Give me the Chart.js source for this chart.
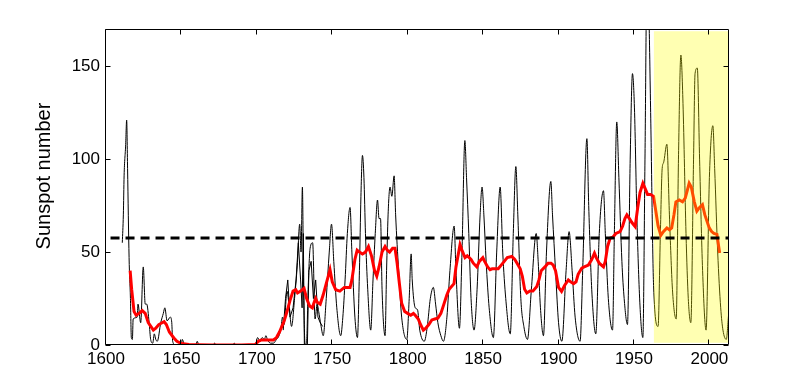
<!DOCTYPE html>
<html>
<head>
<meta charset="utf-8">
<script src="https://cdn.jsdelivr.net/npm/chart.js@4.4.1/dist/chart.umd.min.js"></script>
<style>
  html, body { margin: 0; padding: 0; background: #fff; }
  canvas { display: block; }
</style>
</head>
<body>
<canvas id="sunChart" width="806" height="388"></canvas>
<script>
// thin black series: sunspot number
const spotYears = [1610.8,1611.5,1612,1613,1613.7,1614.3,1615.3,1616.2,1616.8,1617.5,1618,1620.7,1621.2,1623,1624.7,1626,1627,1628.6,1629.6,1631,1632,1633,1634,1636.3,1638,1639,1640.5,1642.6,1643.6,1644.2,1646,1650,1650.6,1652,1659.5,1660.5,1661.5,1671,1672,1673,1684,1685,1686,1699,1700.5,1702,1703.5,1705,1706,1707,1709,1711,1713,1714.7,1716,1717,1718,1720,1721.5,1723,1725,1726.8,1728.4,1729.3,1730.2,1731,1732,1733,1734,1735.3,1737,1738.6,1740,1741,1742.4,1744,1746,1748,1749.5,1751,1753,1755.6,1757,1758.5,1760,1761.8,1763,1765,1766.7,1768,1769,1770,1771,1772,1773.5,1775.5,1777,1778.5,1780,1781,1782,1783,1785,1786,1787,1788.3,1789.5,1791,1792,1794,1796,1799.4,1801,1802.3,1803,1805,1806.5,1808,1811,1813,1815,1817,1818.5,1820,1822,1823.7,1826,1828,1830.8,1832,1834.3,1836,1837.9,1839,1840.5,1842,1844,1846,1848,1849.3,1850.5,1852,1854,1856.8,1859,1861.3,1863,1865,1868,1870,1871.7,1873,1875,1877,1879.4,1882,1885.2,1886.5,1888,1890,1892,1894.9,1896,1898,1900,1902.2,1905,1907,1909,1911,1914.3,1916,1918.8,1920,1922,1924.7,1927,1929.8,1931,1933,1935.8,1937,1938.6,1940,1942,1943.5,1945.7,1947.5,1949,1950.3,1952,1954,1955.9,1957.3,1958.5,1959.8,1961,1963,1966,1967.5,1968.7,1969.6,1971.8,1973.5,1975.5,1978,1979.5,1981.1,1982.5,1984.5,1986,1987.7,1989.5,1990.5,1992,1993.5,1995.5,1997.8,2000,2002.3,2003.5,2005.5,2007.5,2009,2011.2,2012.7];
const spotValues = [55,70,91,107,121,95,47,25,4,3,14,15,22,12,42,22,22,12,3,1,6,3,2,12,17,20,13,15,12,2,0,1,3,0,0,2,0,0,1,0,0,1,0,0,4,2,4,3,5,3,1,1,3,5,9,15,11,29,20,10,25,43,65,50,85,30,0,2,30,52,55,14,22,18,11,5,25,50,65,45,20,5,15,35,60,74,50,15,4,40,80,102,90,60,30,8,35,60,78,68,68,30,5,40,70,85,80,91,70,40,15,3,25,49,35,20,19,8,2,10,25,31,22,12,5,2,15,40,64,40,9,50,110,90,60,25,8,30,70,85,70,45,20,4,50,85,50,25,6,60,96,70,25,10,3,30,60,45,20,5,50,88,70,40,12,2,40,61,40,15,2,40,111,75,30,6,60,83,60,25,8,60,120,90,45,25,11,100,146,128,67,21,4,100,190,180,128,32,10,60,95,98,108,70,30,14,100,156,130,60,25,12,100,146,149,100,40,8,90,118,95,50,20,8,3,16];

// second overlapping black trace in the 1720s-1740s
const altYears = [1717.5,1719,1720.5,1722,1724,1726,1727.5,1729,1730,1730.8,1731.5,1733.5,1734.5,1736,1737.5,1739,1740.5,1742,1743.6];
const altValues = [8,25,35,15,20,35,55,35,20,60,0,0,40,45,25,35,15,12,10];

// red running mean
const meanYears = [1616,1617,1618.6,1620,1622,1624,1626,1628,1631.4,1633,1635,1638.5,1640,1642,1645,1647,1650,1655,1660,1670,1690,1699,1701,1703,1711,1713,1715,1717,1718,1720,1722,1724,1725.8,1727,1729,1731.3,1733,1735,1736.8,1738,1739,1740,1742,1744,1746,1748.5,1750,1752.3,1755,1758,1761.8,1763,1765,1766.5,1768,1770,1772,1774,1776,1778,1779.5,1781,1783,1785,1786.5,1788,1790,1791.6,1793,1794.5,1796,1798,1800,1802,1803.8,1805,1807,1808.5,1810.4,1812,1814,1816,1818,1820,1822,1824,1826,1827.5,1830.7,1832,1834.7,1836,1838,1839.5,1842,1843.5,1845.8,1847.5,1849.8,1851,1853,1854.6,1856,1858,1860,1862,1864,1866,1869,1871,1872.5,1874.6,1876,1877.5,1879,1881,1883,1885.6,1887,1888.5,1891,1893,1895,1896.5,1898,1900,1902,1904,1906.5,1908,1910,1911.6,1913,1915.4,1917,1919.8,1922,1923.8,1925,1927,1929.8,1931,1932.5,1934.2,1936,1938,1940.8,1942.5,1944,1945.3,1947,1948.5,1950.8,1952.5,1954,1955.9,1957.5,1959,1961,1963,1964.5,1966,1967.8,1969.5,1971.8,1973.5,1975,1976.5,1977.8,1980,1982.2,1984,1986.6,1988,1990,1991.7,1993.5,1995.4,1997,1999.9,2001.5,2003,2005,2006.8];
const meanValues = [40,30,18,16,17,18.5,17,12,8,9,11,12.6,11,7,3.8,2,0.8,0.3,0.2,0,0,0.3,2,2.7,2.7,4,7,10.8,12.6,18,24,29,29.7,28,29,30.5,25,21,20,23,25,23,22,27,33,40.5,34,29.7,29,31,31,35,46,51,50,49,50,53,48,40,37,42,50,53,51,50,52,52,44,33,22.5,18,17,16,17,16,14,11,8,9,11,13.5,14,14.4,17,22,27,30,33,42,54,51,47,48,46,44,42,45,47,45,42,40.5,41,41,41,43,45,47,47.6,46,44,41,37,30,28,29,29,31.5,35,40,42,44,44,43,40,31,28.8,32,35,34,33,34,38,41.4,42,43,46,49.4,47,44,42,45,53,57.5,58,60,61,64,68,70,68,66,63.7,74,82,87,84,81,81,80,72,64,59,61,63,62,63,70,77,78,77,79,87,85,77,72,74,75.5,70,63,61,60,59.5,49.5];

// long-term average (dashed)
const avgYears = [1603, 2013];
const avgValues = [57.5, 57.5];

// shaded window
const highlightYears = [1963.2, 2012.6];
const highlightRange = [1.2, 168.8];

const xTicks = [1600, 1650, 1700, 1750, 1800, 1850, 1900, 1950, 2000];
const yTicks = [0, 50, 100, 150];

const toPoints = (xs, ys) => xs.map((x, i) => ({ x: x, y: ys[i] }));

const fontFamily = '"Liberation Sans", Arial, sans-serif';

const framePlugin = {
    id: 'frame',
    afterDatasetDraw(chart, args) {
        // yellow window goes over the data lines but under the dashed one
        if (args.index !== 1) return;
        const { ctx, scales: { x, y } } = chart;
        const x0 = x.getPixelForValue(highlightYears[0]);
        const x1 = x.getPixelForValue(highlightYears[1]);
        const y0 = y.getPixelForValue(highlightRange[1]);
        const y1 = y.getPixelForValue(highlightRange[0]);
        ctx.save();
        ctx.fillStyle = 'rgba(255,255,0,0.3)';
        ctx.fillRect(x0, y0, x1 - x0, y1 - y0);
        ctx.restore();
    },
    afterDraw(chart) {
        const { ctx, chartArea: a, scales: { x, y } } = chart;
        const L = Math.round(a.left) - 0.5, R = Math.round(a.right) - 0.5;
        const T = Math.round(a.top) + 0.5, B = Math.round(a.bottom) - 0.5;
        const tl = 5;
        ctx.save();
        ctx.strokeStyle = '#000';
        ctx.lineWidth = 1;
        ctx.beginPath();
        ctx.rect(L, T, R - L, B - T);
        xTicks.forEach(v => {
            const px = Math.round(x.getPixelForValue(v)) - 0.5;
            ctx.moveTo(px, B); ctx.lineTo(px, B - tl);
            ctx.moveTo(px, T); ctx.lineTo(px, T + tl);
        });
        yTicks.forEach(v => {
            const py = Math.round(y.getPixelForValue(v)) + 0.5;
            ctx.moveTo(L, py); ctx.lineTo(L + tl, py);
            ctx.moveTo(R, py); ctx.lineTo(R - tl, py);
        });
        ctx.stroke();

        // axis title
        ctx.fillStyle = '#000';
        ctx.font = '20px ' + fontFamily;
        ctx.textAlign = 'center';
        ctx.textBaseline = 'middle';
        ctx.translate(a.left - 62, (a.top + a.bottom) / 2 - 11);
        ctx.rotate(-Math.PI / 2);
        ctx.fillText('Sunspot number', 0, 0);
        ctx.restore();
    }
};

new Chart(document.getElementById('sunChart'), {
    type: 'line',
    data: {
        datasets: [
            {
                data: toPoints(avgYears, avgValues),
                borderColor: '#000',
                borderWidth: 3,
                borderDash: [9, 6],
                pointRadius: 0
            },
            {
                data: toPoints(meanYears, meanValues),
                borderColor: '#ff0000',
                borderWidth: 3,
                pointRadius: 0,
                tension: 0
            },
            {
                data: toPoints(spotYears, spotValues),
                borderColor: '#000',
                borderWidth: 1,
                pointRadius: 0,
                cubicInterpolationMode: 'monotone'
            },
            {
                data: toPoints(altYears, altValues),
                borderColor: '#000',
                borderWidth: 1,
                pointRadius: 0,
                tension: 0
            }
        ]
    },
    options: {
        responsive: false,
        animation: false,
        layout: { padding: { left: 0, right: 77, top: 29, bottom: 0 } },
        plugins: { legend: { display: false }, tooltip: { enabled: false } },
        scales: {
            x: {
                type: 'linear',
                min: 1600,
                max: 2013,
                grid: { display: false, drawTicks: false },
                border: { display: false },
                afterBuildTicks: s => { s.ticks = xTicks.map(v => ({ value: v })); },
                afterFit: s => { s.height = 43; },
                ticks: {
                    color: '#000',
                    padding: 4,
                    maxRotation: 0,
                    autoSkip: false,
                    font: { family: fontFamily, size: 17 },
                    callback: v => String(v)
                }
            },
            y: {
                min: 0,
                max: 170,
                grid: { display: false, drawTicks: false },
                border: { display: false },
                afterBuildTicks: s => { s.ticks = yTicks.map(v => ({ value: v })); },
                afterFit: s => { s.width = 106; },
                ticks: {
                    color: '#000',
                    padding: 6,
                    font: { family: fontFamily, size: 17 }
                }
            }
        }
    },
    plugins: [framePlugin]
});
</script>
</body>
</html>
